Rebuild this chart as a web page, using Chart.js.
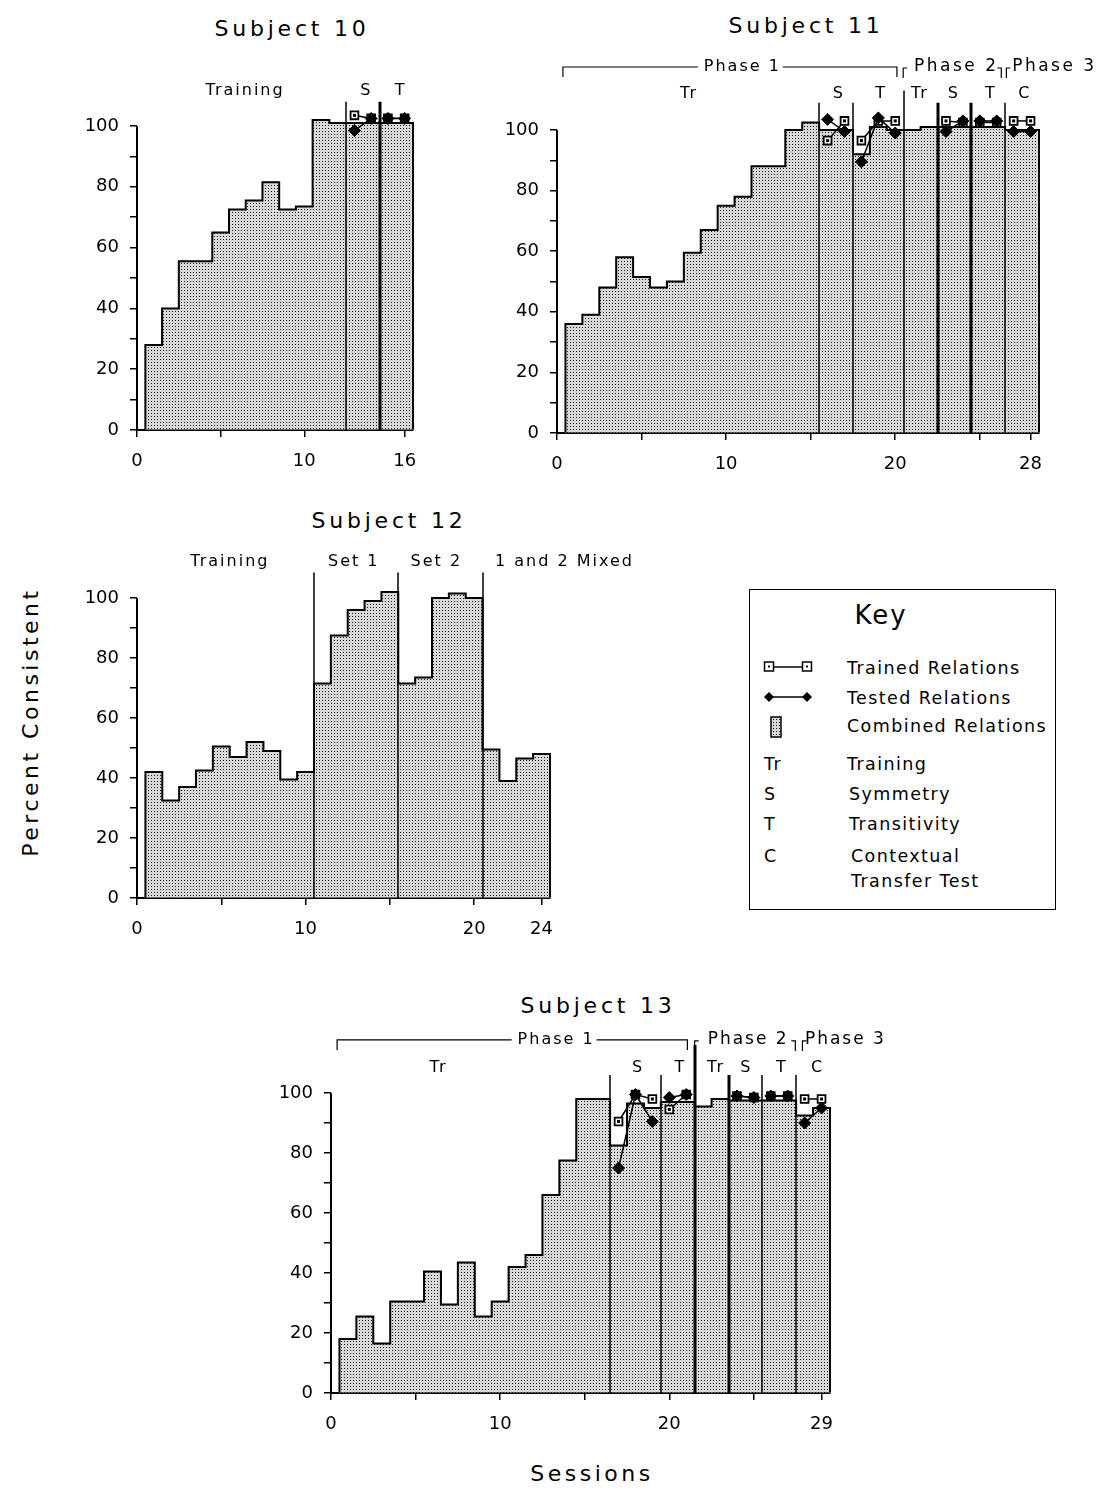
<!DOCTYPE html>
<html>
<head>
<meta charset="utf-8">
<script src="https://cdn.jsdelivr.net/npm/chart.js@4.4.1/dist/chart.umd.min.js"></script>
<style>
  body { margin: 0; background: #fff; width: 1097px; height: 1488px; position: relative; overflow: hidden;
         font-family: 'DejaVu Sans', sans-serif; color: #000; }
  canvas { position: absolute; }
  .title { position: absolute; font-size: 22px; letter-spacing: 3.8px; white-space: nowrap; transform: translate(-50%, -50%); }
  #key { position: absolute; left: 749px; top: 589px; width: 305px; height: 319px; border: 1.5px solid #000; }
  #key div, #key svg { position: absolute; white-space: nowrap; }
  #key div { font-size: 17.5px; letter-spacing: 1.4px; transform: translateY(-50%); }
</style>
</head>
<body>

<div class="title" style="left:292px;top:28px">Subject 10</div>
<div class="title" style="left:806px;top:25px">Subject 11</div>
<div class="title" style="left:389px;top:520px">Subject 12</div>
<div class="title" style="left:598px;top:1005px">Subject 13</div>
<div class="title" style="left:30px;top:722px;letter-spacing:3.5px;transform:translate(-50%,-50%) rotate(-90deg)">Percent Consistent</div>
<div class="title" style="left:592px;top:1473px;letter-spacing:3.5px">Sessions</div>

<div id="key">
  <div style="left:131px;top:25px;font-size:26px;letter-spacing:2px;transform:translate(-50%,-50%)">Key</div>
  <svg style="left:13px;top:70px" width="50" height="14">
    <line x1="6" y1="7" x2="44" y2="7" stroke="#000" stroke-width="1.5"/>
    <rect x="1.5" y="2" width="9" height="9" fill="#fff" stroke="#000" stroke-width="1.5"/>
    <rect x="39.5" y="2" width="9" height="9" fill="#fff" stroke="#000" stroke-width="1.5"/>
    <rect x="5" y="5.5" width="2" height="2" fill="#000"/><rect x="43" y="5.5" width="2" height="2" fill="#000"/>
  </svg>
  <div style="left:97px;top:78px">Trained Relations</div>
  <svg style="left:13px;top:100px" width="50" height="14">
    <line x1="6" y1="7" x2="44" y2="7" stroke="#000" stroke-width="1.5"/>
    <polygon points="6,2 11,7 6,12 1,7" fill="#000"/>
    <polygon points="44,2 49,7 44,12 39,7" fill="#000"/>
  </svg>
  <div style="left:97px;top:108px">Tested Relations</div>
  <svg style="left:20px;top:126px" width="12" height="22">
    <defs><pattern id="dots" width="3" height="3" patternUnits="userSpaceOnUse">
      <rect width="3" height="3" fill="#d8d8d8"/><rect width="1" height="1" fill="#1a1a1a"/></pattern></defs>
    <rect x="1" y="1" width="10" height="20" fill="url(#dots)" stroke="#000" stroke-width="1.5"/>
  </svg>
  <div style="left:97px;top:136px">Combined Relations</div>
  <div style="left:14px;top:174px">Tr</div><div style="left:97px;top:174px">Training</div>
  <div style="left:14px;top:204px">S</div><div style="left:99px;top:204px">Symmetry</div>
  <div style="left:14px;top:234px">T</div><div style="left:99px;top:234px">Transitivity</div>
  <div style="left:14px;top:266px">C</div><div style="left:101px;top:266px">Contextual</div>
  <div style="left:101px;top:291px">Transfer Test</div>
</div>

<script>
// ---- data (percent consistent per session) ----
const combined10 = [28, 40, 55.5, 55.5, 65, 72.5, 75.5, 81.5, 72.5, 73.5, 102, 101, 101, 101, 101, 101];
const trained10  = [null, null, null, null, null, null, null, null, null, null, null, null, 103.5, 102.5, 102.5, 102.5];
const tested10   = [null, null, null, null, null, null, null, null, null, null, null, null, 98.5, 102.5, 102.5, 102.5];
const xTicks10 = [0, 5, 10, 16];
const xLabels10 = [0, 10, 16];

const combined11 = [36, 39, 48, 58, 51.5, 48, 50, 59.5, 67, 75, 78, 88, 88, 100, 102.5, 100, 100, 92, 101, 100,
                    100, 101, 101, 101, 101, 101, 100, 100];
const trained11 = [null, null, null, null, null, null, null, null, null, null, null, null, null, null, null,
                   96.5, 103, 96.5, 103, 103, null, null, 103, 102.5, 102.5, 102.5, 103, 103];
const tested11  = [null, null, null, null, null, null, null, null, null, null, null, null, null, null, null,
                   103.5, 99.5, 89.5, 104, 99, null, null, 99.5, 103, 103, 103, 99.5, 99.5];
const xTicks11 = [0, 5, 10, 15, 20, 25, 28];
const xLabels11 = [0, 10, 20, 28];

const combined12 = [42, 32.5, 37, 42.5, 50.5, 47, 52, 49, 39.5, 42, 71.5, 87.5, 96, 99, 102, 71.5, 73.5, 100,
                    101.5, 100, 49.5, 39, 46.5, 48];
const xTicks12 = [0, 5, 10, 15, 20, 24];
const xLabels12 = [0, 10, 20, 24];

const combined13 = [18, 25.5, 16.5, 30.5, 30.5, 40.5, 29.5, 43.5, 25.5, 30.5, 42, 46, 66, 77.5, 98, 98, 82.5,
                    96.5, 95, 97, 97, 95.5, 98, 97.5, 97.5, 97.5, 97.5, 92.5, 95];
const trained13 = [null, null, null, null, null, null, null, null, null, null, null, null, null, null, null, null,
                   90.5, 99.5, 98, 94.5, 99.5, null, null, 99, 98.5, 99, 99, 98, 98];
const tested13  = [null, null, null, null, null, null, null, null, null, null, null, null, null, null, null, null,
                   75, 99.5, 90.5, 98.5, 99.5, null, null, 99, 98.5, 99, 99, 90, 95];
const xTicks13 = [0, 5, 10, 15, 20, 25, 29];
const xLabels13 = [0, 10, 20, 29];

const yTicks = [0, 10, 20, 30, 40, 50, 60, 70, 80, 90, 100];
const yLabels = [0, 20, 40, 60, 80, 100];

// ---- drawing helpers ----
const Y_AXIS_W = 60, X_AXIS_H = 42, Y_TOP = 125;
const FONT = "'DejaVu Sans', sans-serif";

function stipple() {
  const c = document.createElement('canvas');
  c.width = 3; c.height = 3;
  const g = c.getContext('2d');
  g.fillStyle = '#d8d8d8'; g.fillRect(0, 0, 3, 3);
  g.fillStyle = '#1a1a1a'; g.fillRect(0, 0, 1, 1);
  return g.createPattern(c, 'repeat');
}

function makeChart(cfg) {
  const cv = document.createElement('canvas');
  cv.width = cfg.box.w; cv.height = cfg.box.h;
  cv.style.left = cfg.box.x + 'px'; cv.style.top = cfg.box.y + 'px';
  document.body.appendChild(cv);

  // area gives the pixels of value 0 and 100; the plot area reaches up to Y_TOP so marks above 100 show
  const a = cfg.area;
  const perUnit = (a.bottom - a.top) / 100;
  const plotTop = a.top - (Y_TOP - 100) * perUnit;
  const padding = {
    left: a.left - cfg.box.x - Y_AXIS_W,
    top: plotTop - cfg.box.y,
    right: cfg.box.x + cfg.box.w - a.right,
    bottom: cfg.box.y + cfg.box.h - a.bottom - X_AXIS_H
  };

  const sessions = cfg.combined.map((v, i) => i + 1);
  const crosses = c => (cfg.dividers.some(d => d.x > c.p0.parsed.x && d.x < c.p1.parsed.x) ? 'rgba(0,0,0,0)' : '#000');

  const datasets = [{
    type: 'bar', data: cfg.combined, backgroundColor: stipple(), borderWidth: 0,
    barPercentage: 1, categoryPercentage: 1, clip: false, order: 3
  }];
  if (cfg.trained) {
    datasets.push({
      type: 'line', data: cfg.trained, borderColor: '#000', borderWidth: 1.5, tension: 0, clip: false, order: 2,
      pointStyle: 'rect', pointRadius: 5.5, pointBackgroundColor: '#fff', pointBorderColor: '#000', pointBorderWidth: 1.8,
      segment: { borderColor: crosses }
    });
    datasets.push({
      type: 'line', data: cfg.tested, borderColor: '#000', borderWidth: 1.5, tension: 0, clip: false, order: 1,
      pointStyle: 'rectRot', pointRadius: 6, pointBackgroundColor: '#000', pointBorderColor: '#000', pointBorderWidth: 1,
      segment: { borderColor: crosses }
    });
  }

  const decor = {
    id: 'decor',
    beforeDatasetsDraw(chart) {
      // y axis line, 0 to 100 only
      const ctx = chart.ctx, ys = chart.scales.y, x = chart.chartArea.left;
      ctx.save();
      ctx.strokeStyle = '#000'; ctx.lineWidth = 2;
      ctx.beginPath(); ctx.moveTo(x, ys.getPixelForValue(0) + 1); ctx.lineTo(x, ys.getPixelForValue(100)); ctx.stroke();
      ctx.restore();
    },
    afterDatasetDraw(chart, args) {
      const ctx = chart.ctx, xs = chart.scales.x, ys = chart.scales.y;
      if (args.index === 0) {
        // stepped outline of the combined bars
        const els = args.meta.data;
        ctx.save();
        ctx.strokeStyle = '#000'; ctx.lineWidth = 2; ctx.lineJoin = 'miter';
        ctx.beginPath();
        els.forEach((el, i) => {
          const l = el.x - el.width / 2, r = el.x + el.width / 2;
          if (i === 0) ctx.moveTo(l, el.base);
          ctx.lineTo(l, el.y); ctx.lineTo(r, el.y);
          if (i === els.length - 1) ctx.lineTo(r, el.base);
        });
        ctx.stroke();
        // condition dividers
        cfg.dividers.forEach(d => {
          const px = Math.round(xs.getPixelForValue(d.x));
          ctx.lineWidth = d.w;
          ctx.beginPath();
          ctx.moveTo(px, ys.getPixelForValue(0));
          ctx.lineTo(px, ys.getPixelForValue(d.top));
          ctx.stroke();
        });
        ctx.restore();
      }
      if (args.index === 1) {
        // dot inside trained squares
        ctx.save(); ctx.fillStyle = '#000';
        args.meta.data.forEach(p => { if (!p.skip) ctx.fillRect(p.x - 1.5, p.y - 1.5, 3, 3); });
        ctx.restore();
      }
    },
    afterDraw(chart) {
      const ctx = chart.ctx, xs = chart.scales.x, ys = chart.scales.y;
      ctx.save();
      ctx.fillStyle = '#000'; ctx.strokeStyle = '#000'; ctx.lineWidth = 1.2;
      ctx.textAlign = 'center'; ctx.textBaseline = 'middle';
      ctx.font = '16px ' + FONT; ctx.letterSpacing = '2px';
      (cfg.brackets || []).forEach(b => {
        const y = ys.getPixelForValue(b.y), x1 = xs.getPixelForValue(b.from), x2 = xs.getPixelForValue(b.to);
        ctx.beginPath();
        ctx.moveTo(x1, y + 10); ctx.lineTo(x1, y); ctx.lineTo(x2, y); ctx.lineTo(x2, y + 10);
        ctx.stroke();
        const tx = xs.getPixelForValue(b.tx), w = ctx.measureText(b.text).width;
        ctx.fillStyle = '#fff'; ctx.fillRect(tx - w / 2 - 5, y - 10, w + 8, 20);
        ctx.fillStyle = '#000'; ctx.fillText(b.text, tx + 1, y);
      });
      (cfg.corners || []).forEach(c => {
        const px = xs.getPixelForValue(c.x), py = ys.getPixelForValue(c.y) + 1;
        ctx.beginPath();
        ctx.moveTo(px + c.dir * 4, py); ctx.lineTo(px, py); ctx.lineTo(px, py + 10);
        ctx.stroke();
      });
      cfg.labels.forEach(l => {
        ctx.font = (l.size || 16) + 'px ' + FONT;
        ctx.letterSpacing = (l.sp || 2) + 'px';
        ctx.fillText(l.text, xs.getPixelForValue(l.x) + 1, ys.getPixelForValue(l.y));
      });
      ctx.restore();
    }
  };

  return new Chart(cv.getContext('2d'), {
    data: { labels: sessions, datasets },
    plugins: [decor],
    options: {
      responsive: false, animation: false,
      layout: { padding },
      plugins: { legend: { display: false }, tooltip: { enabled: false } },
      scales: {
        x: {
          type: 'linear', min: 0, max: cfg.xMax, offset: false,
          afterFit: s => { s.height = X_AXIS_H; },
          afterBuildTicks: s => { s.ticks = cfg.xTicks.map(v => ({ value: v })); },
          border: { display: true, color: '#000', width: 2 },
          grid: { offset: false, drawOnChartArea: false, drawTicks: true, tickLength: 7, color: '#000', lineWidth: 1.5 },
          ticks: { color: '#000', font: { family: FONT, size: 18 }, padding: 14, maxRotation: 0, autoSkip: false,
                   callback: v => (cfg.xLabels.includes(v) ? v : '') }
        },
        y: {
          min: 0, max: Y_TOP,
          afterFit: s => { s.width = Y_AXIS_W; },
          afterBuildTicks: s => { s.ticks = yTicks.map(v => ({ value: v })); },
          border: { display: false },
          grid: { drawOnChartArea: false, drawTicks: true, tickLength: 7, color: '#000', lineWidth: 1.5 },
          ticks: { color: '#000', font: { family: FONT, size: 18 }, padding: 11, autoSkip: false,
                   callback: v => (yLabels.includes(v) ? v : '') }
        }
      }
    }
  });
}

makeChart({
  box: { x: 40, y: 20, w: 420, h: 470 }, area: { left: 137, right: 413, top: 126, bottom: 430 },
  combined: combined10, trained: trained10, tested: tested10,
  xMax: 16.5, xTicks: xTicks10, xLabels: xLabels10,
  dividers: [{ x: 12.5, top: 108, w: 1.5 }, { x: 14.5, top: 108, w: 3 }],
  labels: [{ text: 'Training', x: 6.4, y: 111.5 }, { text: 'S', x: 13.65, y: 111.5 }, { text: 'T', x: 15.7, y: 111.5 }]
});

makeChart({
  box: { x: 480, y: 30, w: 617, h: 460 }, area: { left: 557, right: 1039, top: 130, bottom: 433 },
  combined: combined11, trained: trained11, tested: tested11,
  xMax: 28.5, xTicks: xTicks11, xLabels: xLabels11,
  dividers: [{ x: 15.5, top: 109, w: 1.5 }, { x: 17.5, top: 109, w: 1.5 }, { x: 20.5, top: 113, w: 1.5 },
             { x: 22.5, top: 109, w: 3 }, { x: 24.5, top: 109, w: 3 }, { x: 26.5, top: 109, w: 1.5 }],
  labels: [{ text: 'Tr', x: 7.75, y: 112 }, { text: 'S', x: 16.6, y: 112 }, { text: 'T', x: 19.1, y: 112 },
           { text: 'Tr', x: 21.4, y: 112 }, { text: 'S', x: 23.4, y: 112 }, { text: 'T', x: 25.6, y: 112 },
           { text: 'C', x: 27.6, y: 112 },
           { text: 'Phase 2', x: 23.55, y: 120.8, size: 17, sp: 2.5 }, { text: 'Phase 3', x: 29.35, y: 120.8, size: 17, sp: 2.5 }],
  brackets: [{ from: 0.35, to: 20.1, y: 120.8, text: 'Phase 1', tx: 10.9 }],
  corners: [{ x: 20.47, y: 120.8, dir: 1 }, { x: 26.27, y: 120.8, dir: -1 }, { x: 26.57, y: 120.8, dir: 1 }]
});

makeChart({
  box: { x: 40, y: 490, w: 620, h: 460 }, area: { left: 137, right: 550, top: 598, bottom: 898 },
  combined: combined12,
  xMax: 24.5, xTicks: xTicks12, xLabels: xLabels12,
  dividers: [{ x: 10.5, top: 108.5, w: 1.5 }, { x: 15.5, top: 108.5, w: 1.5 }, { x: 20.5, top: 108.5, w: 1.5 }],
  labels: [{ text: 'Training', x: 5.45, y: 112 }, { text: 'Set 1', x: 12.8, y: 112 }, { text: 'Set 2', x: 17.7, y: 112 },
           { text: '1 and 2 Mixed', x: 25.3, y: 112 }]
});

makeChart({
  box: { x: 230, y: 990, w: 680, h: 450 }, area: { left: 331, right: 830, top: 1093, bottom: 1393 },
  combined: combined13, trained: trained13, tested: tested13,
  xMax: 29.5, xTicks: xTicks13, xLabels: xLabels13,
  dividers: [{ x: 16.5, top: 106, w: 1.5 }, { x: 19.5, top: 106, w: 1.5 }, { x: 21.5, top: 116, w: 3 },
             { x: 23.5, top: 106, w: 3 }, { x: 25.5, top: 106, w: 1.5 }, { x: 27.5, top: 106, w: 1.5 }],
  labels: [{ text: 'Tr', x: 6.3, y: 108.3 }, { text: 'S', x: 18.1, y: 108.3 }, { text: 'T', x: 20.6, y: 108.3 },
           { text: 'Tr', x: 22.7, y: 108.3 }, { text: 'S', x: 24.5, y: 108.3 }, { text: 'T', x: 26.6, y: 108.3 },
           { text: 'C', x: 28.7, y: 108.3 },
           { text: 'Phase 2', x: 24.6, y: 117.7, size: 17, sp: 2 }, { text: 'Phase 3', x: 30.35, y: 117.7, size: 17, sp: 2 }],
  brackets: [{ from: 0.36, to: 21.07, y: 117.7, text: 'Phase 1', tx: 13.25 }],
  corners: [{ x: 21.5, y: 117.7, dir: 1 }, { x: 27.45, y: 117.7, dir: -1 }, { x: 27.87, y: 117.7, dir: 1 }]
});
</script>
</body>
</html>
